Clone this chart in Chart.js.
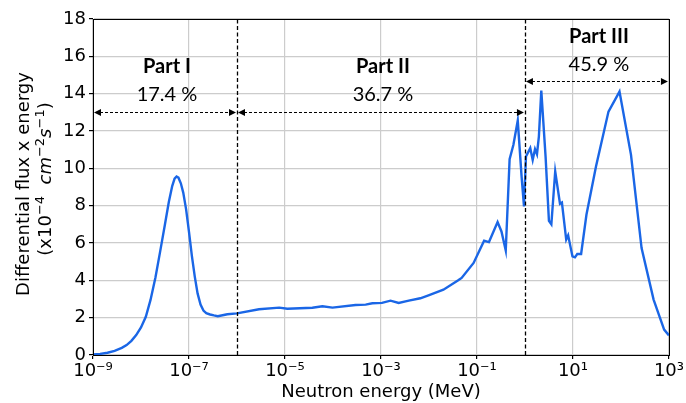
<!DOCTYPE html>
<html><head><meta charset="utf-8">
<script src="https://cdn.jsdelivr.net/npm/chart.js@4.4.1/dist/chart.umd.min.js"></script>
<style>html,body{margin:0;padding:0;background:#fff}#wrap{width:686px;height:403px}</style>
</head><body><div id="wrap"><canvas id="c" width="686" height="403"></canvas></div>
<script>
// Neutron energy (MeV)
const energyMeV = [
  1.00e-9, 1.41e-9, 2.00e-9, 2.82e-9, 3.98e-9, 5.01e-9, 6.31e-9, 7.94e-9,
  1.00e-8, 1.26e-8, 1.58e-8, 2.00e-8, 2.51e-8, 3.16e-8, 3.80e-8, 4.47e-8,
  5.01e-8, 5.50e-8, 6.03e-8, 6.76e-8, 7.59e-8, 8.71e-8,
  1.00e-7, 1.15e-7, 1.32e-7, 1.51e-7, 1.74e-7, 2.00e-7, 2.29e-7, 2.75e-7,
  3.31e-7, 3.98e-7, 5.01e-7, 6.31e-7,
  1.00e-6, 2.88e-6, 7.59e-6, 1.12e-5, 3.72e-5, 6.03e-5, 9.77e-5,
  2.95e-4, 4.79e-4, 6.61e-4, 1.05e-3, 1.58e-3, 2.34e-3, 3.80e-3, 6.61e-3,
  9.77e-3, 2.00e-2, 4.07e-2, 4.79e-2, 8.51e-2,
  0.141, 0.178, 0.269, 0.324, 0.398, 0.479, 0.575, 0.708, 0.851, 0.955,
  1.05, 1.29, 1.45, 1.62, 1.78, 1.95, 2.19, 2.69, 3.16, 3.55, 4.27, 5.37,
  5.89, 7.24, 7.94, 9.77, 11.0, 12.3, 14.8, 19.1, 30.2, 55.0, 93.3,
  162, 269, 479, 794, 1000
];
// Differential flux x energy (x10^-4 cm^-2 s^-1)
const fluxTimesEnergy = [
  0.03, 0.06, 0.12, 0.22, 0.38, 0.53, 0.76, 1.07,
  1.48, 2.05, 2.95, 4.15, 5.55, 7.0, 8.2, 9.05,
  9.45, 9.56, 9.5, 9.2, 8.7, 7.8,
  6.6, 5.3, 4.2, 3.3, 2.7, 2.38, 2.24, 2.17,
  2.12, 2.08, 2.13, 2.18,
  2.23, 2.45, 2.54, 2.48, 2.53, 2.61, 2.54,
  2.68, 2.7, 2.77, 2.79, 2.91, 2.79, 2.91, 3.04,
  3.2, 3.5, 4.0, 4.13, 4.93,
  6.12, 6.05, 7.12, 6.62, 5.6, 10.49, 11.26, 12.56, 9.56, 7.96,
  10.63, 11.08, 10.45, 11.03, 10.76, 11.7, 14.16, 10.63, 7.19, 7.0, 9.83, 8.1,
  8.17, 6.18, 6.41, 5.28, 5.23, 5.41, 5.41, 7.51, 10.1, 13.04, 14.11,
  10.72, 5.73, 2.97, 1.36, 1.05
];
const xTickValues = [1e-9, 1e-7, 1e-5, 1e-3, 1e-1, 1e1, 1e3];
const xTickLabels = ['10⁻⁹', '10⁻⁷', '10⁻⁵', '10⁻³', '10⁻¹', '10¹', '10³'];
const partNames = ['Part I', 'Part II', 'Part III'];
const partShares = ['17.4 %', '36.7 %', '45.9 %'];
const partBounds = [[1e-9, 1e-6], [1e-6, 1], [1, 1e3]];
const partArrowLevel = [13, 13, 14.7];
const partNameLevel = [15.45, 15.45, 17.05];
const partShareLevel = [13.95, 13.95, 15.55];

const FONT = '"DejaVu Sans", sans-serif';
const ANNOT_FONT = 'Lato, "Open Sans", sans-serif';

function arrowHead(ctx, x, y, dir) {
  ctx.beginPath();
  ctx.moveTo(x, y);
  ctx.lineTo(x - dir * 7, y - 3.5);
  ctx.lineTo(x - dir * 7, y + 3.5);
  ctx.closePath();
  ctx.fill();
}

const decorations = {
  id: 'decorations',
  afterDatasetsDraw(chart) {
    const ctx = chart.ctx, xs = chart.scales.x, ys = chart.scales.y, a = chart.chartArea;
    ctx.save();
    ctx.strokeStyle = '#000'; ctx.lineWidth = 1.3; ctx.setLineDash([4, 2.5]);
    [1e-6, 1].forEach(v => {
      const px = Math.round(xs.getPixelForValue(v)) + 0.5;
      ctx.beginPath(); ctx.moveTo(px, a.bottom); ctx.lineTo(px, a.top); ctx.stroke();
    });
    ctx.fillStyle = '#000';
    partBounds.forEach((b, i) => {
      const x1 = xs.getPixelForValue(b[0]) + 1, x2 = xs.getPixelForValue(b[1]) - 1;
      const y = Math.round(ys.getPixelForValue(partArrowLevel[i])) + 0.5;
      ctx.setLineDash([3, 2]); ctx.lineWidth = 1.2;
      ctx.beginPath(); ctx.moveTo(x1 + 6, y); ctx.lineTo(x2 - 6, y); ctx.stroke();
      ctx.setLineDash([]);
      arrowHead(ctx, x1, y, -1);
      arrowHead(ctx, x2, y, 1);
      const cx = xs.getPixelForValue(Math.sqrt(b[0] * b[1])) + 2;
      ctx.textAlign = 'center'; ctx.textBaseline = 'middle';
      ctx.font = 'bold 20px ' + ANNOT_FONT;
      ctx.fillText(partNames[i], cx, ys.getPixelForValue(partNameLevel[i]));
      ctx.font = '20px ' + ANNOT_FONT;
      ctx.fillText(partShares[i], cx, ys.getPixelForValue(partShareLevel[i]));
    });
    ctx.setLineDash([]);
    ctx.strokeStyle = '#000'; ctx.lineWidth = 1;
    ctx.strokeRect(Math.round(a.left) + 0.5, Math.round(a.top) + 0.5, Math.round(a.right - a.left), Math.round(a.bottom - a.top));
    ctx.restore();
  },
  afterDraw(chart) {
    const ctx = chart.ctx;
    ctx.save();
    ctx.fillStyle = '#000';
    ctx.textBaseline = 'alphabetic';
    ctx.textAlign = 'left';
    const fs = 18;
    ctx.save();
    ctx.translate(23, 184);
    ctx.rotate(-Math.PI / 2);
    ctx.font = fs + 'px ' + FONT;
    const t1 = 'Differential flux x energy';
    ctx.fillText(t1, -ctx.measureText(t1).width / 2, fs * 0.36);
    ctx.restore();
    const segs = [
      ['(x10', 'n'], ['−4', 's'], ['  ', 'n'], ['cm', 'i'], ['−2', 's'], ['s', 'i'], ['−1', 's'], [')', 'n']
    ];
    const fontFor = k => k === 's' ? Math.round(fs * 0.7) + 'px ' + FONT : (k === 'i' ? 'oblique ' : '') + fs + 'px ' + FONT;
    ctx.save();
    ctx.translate(45, 179);
    ctx.rotate(-Math.PI / 2);
    let total = 0;
    segs.forEach(s => { ctx.font = fontFor(s[1]); total += ctx.measureText(s[0]).width; });
    let x = -total / 2;
    segs.forEach(s => {
      ctx.font = fontFor(s[1]);
      const dy = s[1] === 's' ? -fs * 0.42 : 0;
      ctx.fillText(s[0], x, fs * 0.36 + dy);
      x += ctx.measureText(s[0]).width;
    });
    ctx.restore();
    ctx.restore();
  }
};

new Chart(document.getElementById('c'), {
  type: 'line',
  data: {
    datasets: [{
      data: energyMeV.map((e, i) => ({ x: e, y: fluxTimesEnergy[i] })),
      borderColor: '#1a66e6',
      borderWidth: 2.4,
      pointRadius: 0,
      tension: 0,
      fill: false
    }]
  },
  options: {
    responsive: false,
    devicePixelRatio: 1,
    animation: false,
    layout: { padding: { top: 19, right: 16, left: 0, bottom: 0 } },
    plugins: { legend: { display: false }, tooltip: { enabled: false } },
    scales: {
      x: {
        type: 'logarithmic',
        min: 1e-9, max: 1e3,
        afterBuildTicks: s => { s.ticks = xTickValues.map(v => ({ value: v })); },
        afterFit: s => { s.height = 48; },
        ticks: {
          autoSkip: false, maxRotation: 0, padding: 2,
          color: '#000', font: { family: FONT, size: 18 },
          callback: (v) => {
            const i = xTickValues.findIndex(t => Math.abs(Math.log10(t) - Math.log10(v)) < 1e-6);
            return i >= 0 ? xTickLabels[i] : '';
          }
        },
        grid: { color: '#cccccc', lineWidth: 1.2, tickColor: '#000', tickLength: 4 },
        border: { color: '#000', width: 1 },
        title: { display: true, text: 'Neutron energy (MeV)', color: '#000', font: { family: FONT, size: 18 }, padding: { top: 0, bottom: 0 } }
      },
      y: {
        min: 0, max: 18,
        afterFit: s => { s.width = 93; },
        ticks: { stepSize: 2, padding: 3, color: '#000', font: { family: FONT, size: 18 } },
        grid: { color: '#cccccc', lineWidth: 1.2, tickColor: '#000', tickLength: 4 },
        border: { color: '#000', width: 1 }
      }
    }
  },
  plugins: [decorations]
});
</script>
</body></html>
